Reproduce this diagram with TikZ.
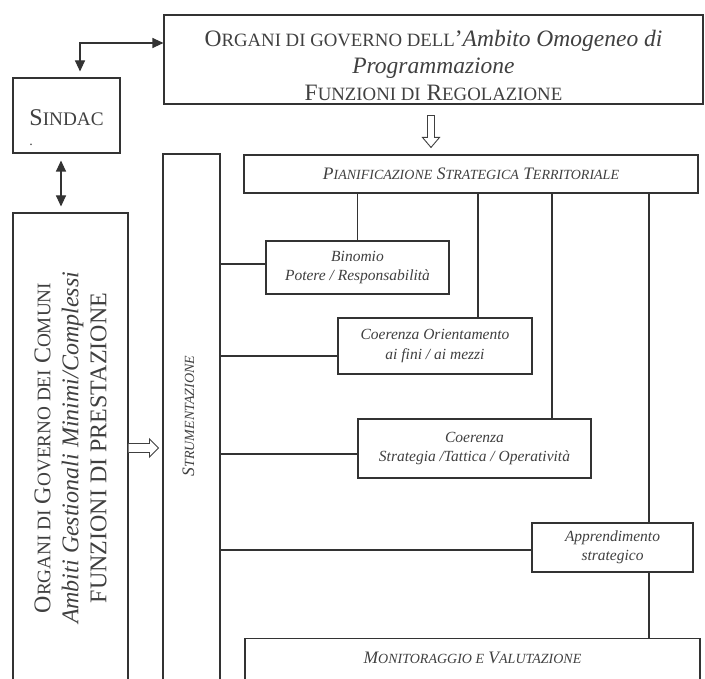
\documentclass[tikz,border=0pt]{standalone}
\usepackage{fontspec}
\setmainfont{Liberation Serif}
\usetikzlibrary{arrows.meta,calc}
\newcommand\smc[1]{\scalebox{0.8}{#1}}
\begin{document}
\begin{tikzpicture}[x=1pt,y=1pt,
  box/.style={draw=black!80, line width=1.1pt, inner sep=0pt, align=center, text=black!75},
  plainbox/.style={draw=black!80, line width=1.1pt, inner sep=0pt, text=black!75},
  conn/.style={draw=black!80, line width=1.1pt},
  tri/.tip={Triangle[length=11pt,width=10pt]},
  hollow/.style={draw=black!75, line width=0.9pt, fill=white},
  smallit/.style={font=\fontsize{15.5}{19.5}\selectfont\itshape},
  scit/.style={font=\fontsize{17.5}{20}\selectfont\itshape}]
\useasboundingbox (0,0) rectangle (705,-679);
\clip (0,0) rectangle (705,-679);
\fill[white] (0,0) rectangle (705,-679);

% boxes
\node[box, minimum width=539pt, minimum height=89pt, font=\fontsize{23.5}{27}\selectfont] (top) at (433.5,-59.5)
  {\rule{0pt}{29pt}O\smc{RGANI DI GOVERNO DELL}'\textit{Ambito Omogeneo di}\\\textit{Programmazione}\\F\smc{UNZIONI DI} R\smc{EGOLAZIONE}};
\node[plainbox, minimum width=107pt, minimum height=75pt, text height=21pt, font=\fontsize{24}{28}\selectfont] (sindac) at (66.5,-115.5)
  {\rlap{\smash{\raisebox{-20pt}{\fontsize{14}{14}\selectfont .}}}S\smc{INDAC}};
\node[box, minimum width=115pt, minimum height=470pt] (left) at (70.5,-448) {};
\node[rotate=90, align=center, text=black!75, inner sep=0pt, font=\fontsize{24}{28}\selectfont] (lefttxt) at (left.center)
  {O\smc{RGANI DI} G\smc{OVERNO DEI} C\smc{OMUNI}\\\textit{Ambiti Gestionali Minimi/Complessi}\\FUNZIONI DI PRESTAZIONE};
\node[box, minimum width=57pt, minimum height=528pt] (strum) at (191.5,-418) {};
\node[rotate=90, text=black!75, inner sep=0pt, scit] (strumtxt) at ([xshift=-3pt,yshift=2pt]strum.center)
  {S\smc{TRUMENTAZIONE}};
\node[box, minimum width=454pt, minimum height=38pt, scit] (pian) at (471,-174)
  {P\smc{IANIFICAZIONE} S\smc{TRATEGICA} T\smc{ERRITORIALE}};
\node[box, minimum width=183pt, minimum height=53pt, smallit] (binomio) at (357.5,-267.5)
  {Binomio\\Potere / Responsabilità};
\node[box, minimum width=194pt, minimum height=56pt, smallit] (coor) at (435,-346)
  {Coerenza Orientamento\\ai fini / ai mezzi};
\node[box, minimum width=233pt, minimum height=59pt, smallit] (cstrat) at (474.5,-448.5)
  {Coerenza\\Strategia /Tattica / Operatività};
\node[box, minimum width=161pt, minimum height=49pt, smallit] (appr) at (612.5,-547.5)
  {Apprendimento\\strategico};
\node[plainbox, anchor=north, minimum width=455pt, text height=25pt, text depth=45pt, scit] (monit) at (472.5,-638)
  {M\smc{ONITORAGGIO E} V\smc{ALUTAZIONE}};

% arrows between SINDAC and governing bodies
\draw[conn, {tri}-{tri}, shorten <=6pt] ([xshift=13.5pt]sindac.north) |- ([yshift=16.5pt]top.west);
\draw[conn, {tri}-{tri}, shorten <=7pt, shorten >=6pt] ([xshift=-5.5pt]sindac.south) -- ([xshift=-5.5pt]sindac.south |- left.north);

% vertical links from Pianificazione
\coordinate (c2) at (478,0);
\coordinate (c3) at (552,0);
\coordinate (c4) at (649,0);
\draw[conn] (binomio.north |- pian.south) -- (binomio.north);
\draw[conn] (c2 |- pian.south) -- (c2 |- coor.north);
\draw[conn] (c3 |- pian.south) -- (c3 |- cstrat.north);
\draw[conn] (c4 |- pian.south) -- (c4 |- appr.north);
\draw[conn] (c4 |- appr.south) -- (c4 |- monit.north);

% horizontal links from Strumentazione
\coordinate (r1) at (0,-264);
\coordinate (r2) at (0,-356);
\coordinate (r3) at (0,-454);
\coordinate (r4) at (0,-550);
\draw[conn] (strum.east |- r1) -- (binomio.west |- r1);
\draw[conn] (strum.east |- r2) -- (coor.west |- r2);
\draw[conn] (strum.east |- r3) -- (cstrat.west |- r3);
\draw[conn] (strum.east |- r4) -- (appr.west |- r4);

% hollow arrows
\coordinate (d0) at ([xshift=-2.5pt,yshift=-11pt]top.south);
\coordinate (d1) at ([yshift=7pt]d0 |- pian.north);
\draw[hollow] ($(d0)+(-3.5,0)$) -- ($(d0)+(3.5,0)$) -- ($(d1)+(3.5,10)$) -- ($(d1)+(8.5,10)$) -- (d1)
  -- ($(d1)+(-8.5,10)$) -- ($(d1)+(-3.5,10)$) -- cycle;
\coordinate (l0) at (left.east);
\coordinate (l1) at ([xshift=-4pt]strum.west |- l0);
\draw[hollow] ($(l0)+(0,4.5)$) -- ($(l1)+(-9,4.5)$) -- ($(l1)+(-9,9)$) -- (l1) -- ($(l1)+(-9,-9)$)
  -- ($(l1)+(-9,-4.5)$) -- ($(l0)+(0,-4.5)$);
\end{tikzpicture}
\end{document}
